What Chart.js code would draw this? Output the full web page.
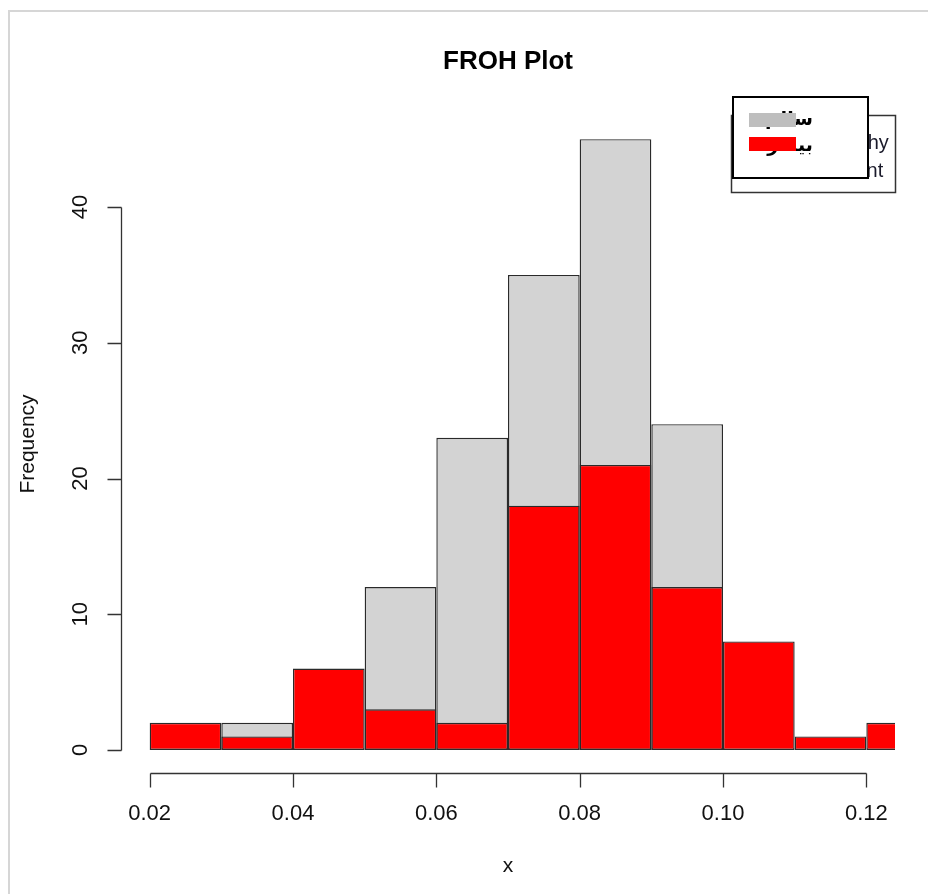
<!DOCTYPE html>
<html><head><meta charset="utf-8">
<script src="https://cdn.jsdelivr.net/npm/chart.js@4"></script>
<style>html,body{margin:0;padding:0;background:#fff;overflow:hidden}</style>
</head><body>
<canvas id="c" width="928" height="894"></canvas>
<script>
const binStarts = [0.02,0.03,0.04,0.05,0.06,0.07,0.08,0.09,0.10,0.11,0.12];
const healthyCounts = [0,2,0,12,23,35,45,24,0,0,0];
const patientCounts = [2,1,6,3,2,18,21,12,8,1,2];
const binWidth = 0.01;
const xTickValues = [0.02,0.04,0.06,0.08,0.10,0.12];
const xTickLabels = ['0.02','0.04','0.06','0.08','0.10','0.12'];
const yTickValues = [0,10,20,30,40];
const yTickLabels = ['0','10','20','30','40'];
const seriesLabelsFa = ['سالم','بیمار'];
const seriesLabelsEn = ['Healthy','Patient'];
const titleText = 'FROH Plot';
const xTitle = 'x';
const yTitle = 'Frequency';

const FONT = '"Liberation Sans", Arial, sans-serif';

const rAxes = {
  id: 'rAxes',
  afterDraw(chart) {
    const ctx = chart.ctx;
    const xs = chart.scales.x, ys = chart.scales.y;
    const area = chart.chartArea;
    ctx.save();
    // outer frame
    ctx.strokeStyle = '#d6d6d6';
    ctx.lineWidth = 2;
    ctx.beginPath();
    ctx.moveTo(9, 894); ctx.lineTo(9, 11); ctx.lineTo(928, 11);
    ctx.stroke();

    ctx.strokeStyle = '#333';
    ctx.lineWidth = 1.3;
    ctx.fillStyle = '#111';
    // y axis
    const axX = Math.round(area.left) + 0.5;
    const y0 = ys.getPixelForValue(yTickValues[0]);
    const y1 = ys.getPixelForValue(yTickValues[yTickValues.length-1]);
    ctx.beginPath();
    ctx.moveTo(axX, Math.round(y0)+0.5); ctx.lineTo(axX, Math.round(y1)+0.5);
    yTickValues.forEach(v => {
      const py = Math.round(ys.getPixelForValue(v)) + 0.5;
      ctx.moveTo(axX, py); ctx.lineTo(axX - 14, py);
    });
    ctx.stroke();
    ctx.font = '22px ' + FONT;
    ctx.textAlign = 'center';
    ctx.textBaseline = 'middle';
    yTickValues.forEach((v, i) => {
      const py = ys.getPixelForValue(v);
      ctx.save();
      ctx.translate(81, py);
      ctx.rotate(-Math.PI/2);
      ctx.fillText(yTickLabels[i], 0, 0);
      ctx.restore();
    });
    // x axis
    const axY = Math.round(area.bottom) + 0.5;
    const x0 = xs.getPixelForValue(xTickValues[0]);
    const x1 = xs.getPixelForValue(xTickValues[xTickValues.length-1]);
    ctx.beginPath();
    ctx.moveTo(Math.round(x0)+0.5, axY); ctx.lineTo(Math.round(x1)+0.5, axY);
    xTickValues.forEach(v => {
      const px = Math.round(xs.getPixelForValue(v)) + 0.5;
      ctx.moveTo(px, axY); ctx.lineTo(px, axY + 14);
    });
    ctx.stroke();
    xTickValues.forEach((v, i) => {
      ctx.fillText(xTickLabels[i], xs.getPixelForValue(v), 814);
    });
    // axis titles
    const cx = (area.left + area.right) / 2;
    const cy = (area.top + area.bottom) / 2;
    ctx.font = '21px ' + FONT;
    ctx.fillText(xTitle, cx, 866);
    ctx.save();
    ctx.translate(28, cy);
    ctx.rotate(-Math.PI/2);
    ctx.fillText(yTitle, 0, 0);
    ctx.restore();
    // main title
    ctx.font = 'bold 26px ' + FONT;
    ctx.fillStyle = '#000';
    ctx.fillText(titleText, cx, 62);

    // legend: back box (english)
    ctx.fillStyle = '#fff';
    ctx.fillRect(731, 115, 165, 78);
    ctx.strokeStyle = '#333';
    ctx.lineWidth = 1.5;
    ctx.strokeRect(731.5, 115.5, 164, 77);
    ctx.fillStyle = '#1a1a2a';
    ctx.font = '20px ' + FONT;
    ctx.textAlign = 'left';
    ctx.textBaseline = 'alphabetic';
    ctx.fillText(seriesLabelsEn[0], 821, 149);
    ctx.fillText(seriesLabelsEn[1], 821, 177);
    // front box (persian)
    ctx.fillStyle = '#fff';
    ctx.fillRect(732, 96, 137, 83);
    ctx.strokeStyle = '#000';
    ctx.lineWidth = 2;
    ctx.strokeRect(733, 97, 135, 81);
    ctx.fillStyle = '#000';
    ctx.font = 'bold 19px "DejaVu Sans", sans-serif';
    ctx.direction = 'rtl';
    ctx.textAlign = 'right';
    ctx.fillText(seriesLabelsFa[0], 813, 125);
    ctx.fillText(seriesLabelsFa[1], 813, 151);
    ctx.direction = 'ltr';
    ctx.fillStyle = '#bebebe';
    ctx.fillRect(749, 113, 47, 14);
    ctx.fillStyle = '#ff0000';
    ctx.fillRect(749, 137, 47, 14);
    ctx.restore();
  }
};

const mk = (arr) => binStarts.map((b, i) => ({ x: b + binWidth / 2, y: arr[i] }));

new Chart(document.getElementById('c'), {
  type: 'bar',
  data: {
    datasets: [
      { label: seriesLabelsEn[1], data: mk(patientCounts), backgroundColor: '#ff0000' },
      { label: seriesLabelsEn[0], data: mk(healthyCounts), backgroundColor: '#d3d3d3' }
    ].map(d => Object.assign(d, {
      borderColor: '#2a2a2a', borderWidth: 1.4, borderSkipped: false,
      grouped: false, barPercentage: 1, categoryPercentage: 1, clip: 0, inflateAmount: 0
    }))
  },
  options: {
    responsive: false,
    animation: false,
    devicePixelRatio: 1,
    layout: { padding: { left: 121, right: 33, top: 115, bottom: 121 } },
    scales: {
      x: { type: 'linear', min: 0.016, max: 0.124, offset: false, display: false },
      y: { type: 'linear', min: -1.694, max: 46.78, display: false }
    },
    plugins: { legend: { display: false }, tooltip: { enabled: false }, title: { display: false } }
  },
  plugins: [rAxes]
});
</script>
</body></html>
